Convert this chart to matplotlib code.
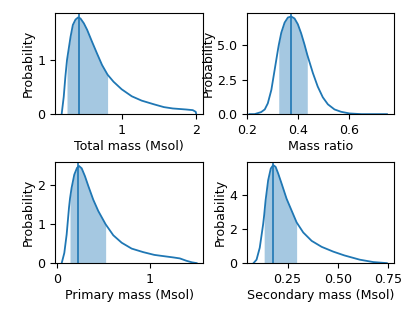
import matplotlib
matplotlib.use("Agg")
import matplotlib.pyplot as plt
import numpy as np

# Posterior density curves
total_x = [0.19, 0.218, 0.24, 0.262, 0.31, 0.341, 0.377, 0.413, 0.444, 0.49, 0.534,
           0.60, 0.668, 0.735, 0.81, 0.89, 1.0, 1.137, 1.27, 1.44, 1.57, 1.69,
           1.87, 1.96, 2.0, 2.007]
total_y = [0.0, 0.32, 0.69, 1.0, 1.43, 1.65, 1.75, 1.79, 1.77, 1.68, 1.56,
           1.34, 1.12, 0.91, 0.73, 0.60, 0.46, 0.33, 0.25, 0.18, 0.13, 0.105,
           0.086, 0.074, 0.043, 0.0]
total_band = (0.262, 0.81)
total_mode = 0.42

ratio_x = [0.21, 0.23, 0.256, 0.27, 0.282, 0.296, 0.309, 0.322, 0.325, 0.335, 0.348,
           0.361, 0.374, 0.387, 0.40, 0.413, 0.426, 0.437, 0.459, 0.478, 0.498,
           0.518, 0.544, 0.57, 0.603, 0.65, 0.75]
ratio_y = [0.0, 0.0, 0.15, 0.34, 0.78, 1.76, 3.22, 4.68, 5.0, 5.9, 6.63,
           7.0, 7.07, 6.93, 6.51, 5.85, 5.05, 4.3, 2.98, 2.0, 1.22,
           0.71, 0.34, 0.17, 0.05, 0.0, 0.0]
ratio_band = (0.325, 0.437)
ratio_mode = 0.374

primary_x = [0.054, 0.082, 0.107, 0.132, 0.143, 0.16, 0.189, 0.218, 0.239, 0.268, 0.303,
             0.339, 0.392, 0.446, 0.525, 0.607, 0.697, 0.804, 0.928, 1.046, 1.107,
             1.25, 1.32, 1.39, 1.45, 1.5]
primary_y = [0.0, 0.26, 0.73, 1.41, 1.65, 1.92, 2.26, 2.43, 2.48, 2.42, 2.22,
             1.97, 1.62, 1.33, 0.99, 0.71, 0.52, 0.37, 0.28, 0.21, 0.19,
             0.145, 0.12, 0.06, 0.02, 0.0]
primary_band = (0.143, 0.525)
primary_mode = 0.232

secondary_x = [0.08, 0.095, 0.111, 0.128, 0.133, 0.14, 0.153, 0.166, 0.178, 0.19, 0.203,
               0.22, 0.245, 0.27, 0.295, 0.328, 0.37, 0.42, 0.478, 0.533, 0.61,
               0.678, 0.745]
secondary_y = [0.0, 0.2, 0.9, 2.28, 2.8, 3.66, 4.85, 5.53, 5.73, 5.63, 5.24,
               4.65, 3.76, 3.07, 2.38, 1.79, 1.3, 0.95, 0.67, 0.45, 0.2,
               0.06, 0.0]
secondary_band = (0.133, 0.295)
secondary_mode = 0.175

panels = [
    (total_x, total_y, total_band, total_mode, "Total mass (Msol)", (0.10, 2.10), (0, 1.87)),
    (ratio_x, ratio_y, ratio_band, ratio_mode, "Mass ratio", (0.2, 0.777), (0, 7.32)),
    (primary_x, primary_y, primary_band, primary_mode, "Primary mass (Msol)", (-0.018, 1.57), (0, 2.58)),
    (secondary_x, secondary_y, secondary_band, secondary_mode, "Secondary mass (Msol)", (0.047, 0.78), (0, 5.91)),
]

plt.rcParams["font.size"] = 9.1
fig = plt.figure(figsize=(4.15, 3.11), dpi=100)
boxes = [
    [0.1325, 0.633, 0.357, 0.325],
    [0.595, 0.633, 0.354, 0.325],
    [0.1325, 0.154, 0.357, 0.325],
    [0.595, 0.154, 0.354, 0.325],
]

for box, (x, y, band, mode, label, xlim, ylim) in zip(boxes, panels):
    ax = fig.add_axes(box)
    x = np.array(x)
    y = np.array(y)
    ax.plot(x, y, color="C0", lw=1.3)
    mask = (x >= band[0]) & (x <= band[1])
    ax.fill_between(x[mask], 0, y[mask], color="C0", alpha=0.4, lw=0)
    ax.axvline(mode, color="C0", lw=1.2)
    ax.set_xlim(*xlim)
    ax.set_ylim(*ylim)
    ax.set_xlabel(label, labelpad=2)
    ax.set_ylabel("Probability", labelpad=2)

fig.savefig("out.png", dpi=100)
